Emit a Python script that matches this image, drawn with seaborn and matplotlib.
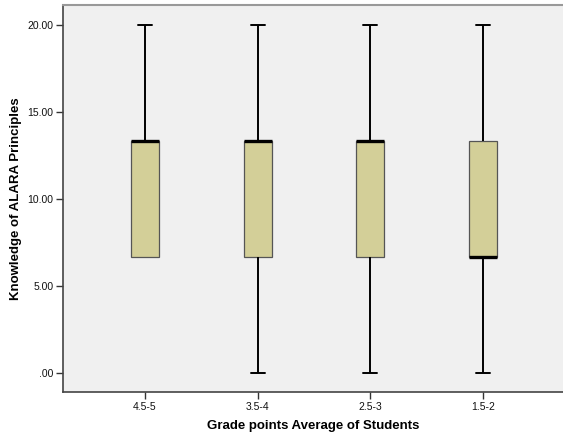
import numpy as np
import pandas as pd
import seaborn as sns
import matplotlib
matplotlib.use("Agg")
import matplotlib.pyplot as plt
from matplotlib.ticker import FixedLocator, FixedFormatter

# Five-number summaries of the knowledge score per GPA group
groups = ["4.5-5", "3.5-4", "2.5-3", "1.5-2"]
minimum = [6.67, 0.00, 0.00, 0.00]
q1 = [6.67, 6.67, 6.67, 6.67]
median = [13.33, 13.33, 13.33, 6.67]
q3 = [13.33, 13.33, 13.33, 13.33]
maximum = [20.00, 20.00, 20.00, 20.00]

y_ticks = [0, 5, 10, 15, 20]
y_tick_labels = [".00", "5.00", "10.00", "15.00", "20.00"]

# Five points per group reproduce the quartiles exactly with linear percentiles
rows = []
for g, a, b, c, d, e in zip(groups, minimum, q1, median, q3, maximum):
    for v in (a, b, c, d, e):
        rows.append({"GPA": g, "Score": v})
df = pd.DataFrame(rows)

sns.set_theme(style="white")
plt.rcParams["font.family"] = ["Liberation Sans", "DejaVu Sans"]

fig = plt.figure(figsize=(5.63, 4.36), dpi=100)
ax = fig.add_axes([63 / 563, 44 / 436, 500 / 563, 387 / 436])
ax.set_facecolor("#f0f0f0")

sns.boxplot(
    data=df, x="GPA", y="Score", order=groups, ax=ax,
    whis=(0, 100), width=0.25, color="#d3cf98", saturation=1,
    linecolor="#555555", linewidth=0.9, fliersize=0,
    whiskerprops=dict(color="black", linewidth=1.4),
    capprops=dict(color="black", linewidth=1.4),
    medianprops=dict(color="black", linewidth=2.4),
)

# No cap where the lower whisker has zero length
for line in ax.lines:
    xs, ys = line.get_xdata(), line.get_ydata()
    if len(xs) == 2 and ys[0] == ys[1] and line.get_linewidth() == 1.4:
        i = int(round((xs[0] + xs[1]) / 2))
        if 0 <= i < len(groups) and minimum[i] == q1[i] and abs(ys[0] - minimum[i]) < 1e-9:
            line.set_visible(False)

ax.set_xlim(-0.728, 3.71)
ax.set_ylim(-1.09, 21.15)
ax.yaxis.set_major_locator(FixedLocator(y_ticks))
ax.yaxis.set_major_formatter(FixedFormatter(y_tick_labels))

ax.tick_params(axis="both", which="major", direction="out", length=5,
               width=1, color="#333333", labelsize=7.5, labelcolor="#111111",
               left=True, bottom=True, pad=2)

for side in ("left", "bottom"):
    ax.spines[side].set_color("#444444")
    ax.spines[side].set_linewidth(1.2)
ax.spines["top"].set_color("#999999")
ax.spines["top"].set_linewidth(1.5)
ax.spines["right"].set_visible(False)

ax.set_xlabel("Grade points Average of Students", fontsize=9.5,
              fontweight="bold", labelpad=6, color="black")
ax.set_ylabel("Knowledge of ALARA Principles", fontsize=9.5,
              fontweight="bold", labelpad=4, color="black")

fig.savefig("out.png", dpi=100)
